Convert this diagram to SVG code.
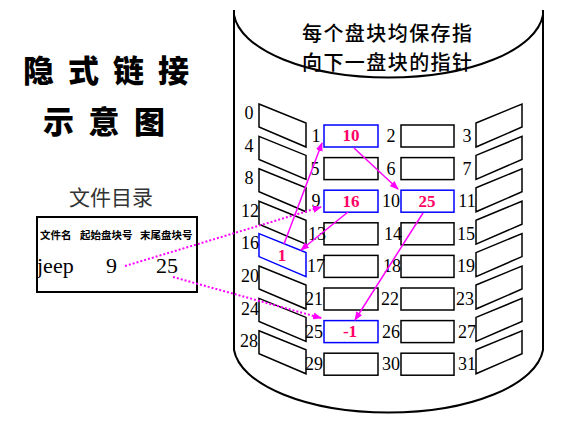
<svg xmlns="http://www.w3.org/2000/svg" width="573" height="424" viewBox="0 0 573 424">
<style>
.cyl{fill:none;stroke:#000;stroke-width:2}
.blk{fill:#fff;stroke:#000;stroke-width:1.5}
.used{fill:#fff;stroke:#0000FF;stroke-width:1.5}
.num{font-family:"Liberation Serif",serif;font-size:18px;fill:#000;text-anchor:middle}
.val{font-family:"Liberation Serif",serif;font-size:17px;font-weight:bold;fill:#FF0066;text-anchor:middle}
.cjk{font-family:"Noto Sans CJK SC",sans-serif}
.ptr{stroke:#FF00FF;stroke-width:1.5;fill:none;marker-end:url(#ah)}
.dot{stroke:#FF00FF;stroke-width:2;stroke-dasharray:2,2;fill:none;marker-end:url(#ah)}
</style>
<defs>
<marker id="ah" markerUnits="userSpaceOnUse" markerWidth="9" markerHeight="7" refX="8" refY="3.5" orient="auto">
<path d="M0,0 L9,3.5 L0,7 Z" fill="#FF00FF"/>
</marker>
<path id="pl" d="M0,0 L47,19 L47,43 L0,23 Z"/>
<path id="pr" d="M0,19 L46,0 L46,23 L0,43 Z"/>
</defs>
<rect width="573" height="424" fill="#fff"/>

<g id="titles" class="cjk">
<text x="106" y="82" font-size="31" font-weight="900" text-anchor="middle" textLength="166" lengthAdjust="spacing">隐式链接</text>
<text x="104" y="133" font-size="31" font-weight="900" text-anchor="middle" textLength="122" lengthAdjust="spacing">示意图</text>
</g>

<g id="directory">
<text x="111" y="205" class="cjk" font-size="21" fill="#333" text-anchor="middle">文件目录</text>
<rect x="37" y="217" width="160" height="75" fill="none" stroke="#000" stroke-width="2"/>
<text class="cjk" font-size="10.5" font-weight="bold" y="239"><tspan x="40">文件名</tspan><tspan x="80">起始盘块号</tspan><tspan x="140">末尾盘块号</tspan></text>
<text font-family="'Liberation Serif',serif" font-size="22" y="273"><tspan x="37">jeep</tspan><tspan x="106">9</tspan><tspan x="156">25</tspan></text>
</g>

<g id="disk">
<path class="cyl" d="M234,10 L234,350 A155,68 0 0 0 543,350 L543,10"/>
<path class="cyl" d="M234,15 A155,68 0 0 0 543,15"/>
<text class="cjk" font-size="20" font-weight="500" text-anchor="middle" x="387" y="41" textLength="170" lengthAdjust="spacing">每个盘块均保存指</text>
<text class="cjk" font-size="20" font-weight="500" text-anchor="middle" x="387" y="70" textLength="170" lengthAdjust="spacing">向下一盘块的指针</text>
</g>

<g id="col0">
<use href="#pl" class="blk" x="259" y="104"/>
<use href="#pl" class="blk" x="259" y="136.4"/>
<use href="#pl" class="blk" x="259" y="168.8"/>
<use href="#pl" class="blk" x="259" y="201.2"/>
<use href="#pl" class="used" x="259" y="233.6"/>
<use href="#pl" class="blk" x="259" y="266"/>
<use href="#pl" class="blk" x="259" y="298.4"/>
<use href="#pl" class="blk" x="259" y="330.8"/>
<text class="num" x="249" y="119">0</text>
<text class="num" x="249" y="151.6">4</text>
<text class="num" x="249" y="184.2">8</text>
<text class="num" x="250" y="216.8">12</text>
<text class="num" x="250" y="249.4">16</text>
<text class="num" x="250" y="282">20</text>
<text class="num" x="250" y="314.6">24</text>
<text class="num" x="249" y="347.2">28</text>
</g>

<g id="col1">
<rect class="used" x="324" y="125" width="54" height="22"/>
<rect class="blk" x="324" y="157.6" width="54" height="22"/>
<rect class="used" x="324" y="190.2" width="54" height="22"/>
<rect class="blk" x="324" y="222.8" width="54" height="22"/>
<rect class="blk" x="324" y="255.4" width="54" height="22"/>
<rect class="blk" x="324" y="288" width="54" height="22"/>
<rect class="used" x="324" y="320.6" width="54" height="22"/>
<rect class="blk" x="324" y="353.2" width="54" height="22"/>
<text class="num" x="316" y="142">1</text>
<text class="num" x="315" y="174.6">5</text>
<text class="num" x="316" y="207.2">9</text>
<text class="num" x="317" y="239.8">13</text>
<text class="num" x="316" y="272.4">17</text>
<text class="num" x="314" y="305">21</text>
<text class="num" x="314" y="337.6">25</text>
<text class="num" x="314" y="370.2">29</text>
</g>

<g id="col2">
<rect class="blk" x="401" y="125" width="53" height="22"/>
<rect class="blk" x="401" y="157.6" width="53" height="22"/>
<rect class="used" x="401" y="190.2" width="53" height="22"/>
<rect class="blk" x="401" y="222.8" width="53" height="22"/>
<rect class="blk" x="401" y="255.4" width="53" height="22"/>
<rect class="blk" x="401" y="288" width="53" height="22"/>
<rect class="blk" x="401" y="320.6" width="53" height="22"/>
<rect class="blk" x="401" y="353.2" width="53" height="22"/>
<text class="num" x="391" y="142">2</text>
<text class="num" x="391" y="174.6">6</text>
<text class="num" x="391" y="207.2">10</text>
<text class="num" x="393" y="239.8">14</text>
<text class="num" x="392" y="272.4">18</text>
<text class="num" x="390" y="305">22</text>
<text class="num" x="391" y="337.6">26</text>
<text class="num" x="391" y="370.2">30</text>
</g>

<g id="col3">
<use href="#pr" class="blk" x="476" y="104"/>
<use href="#pr" class="blk" x="476" y="136.4"/>
<use href="#pr" class="blk" x="476" y="168.8"/>
<use href="#pr" class="blk" x="476" y="201.2"/>
<use href="#pr" class="blk" x="476" y="233.6"/>
<use href="#pr" class="blk" x="476" y="266"/>
<use href="#pr" class="blk" x="476" y="298.4"/>
<use href="#pr" class="blk" x="476" y="330.8"/>
<text class="num" x="467" y="142">3</text>
<text class="num" x="467" y="174.6">7</text>
<text class="num" x="467" y="207.2">11</text>
<text class="num" x="466" y="239.8">15</text>
<text class="num" x="466" y="272.4">19</text>
<text class="num" x="465" y="305">23</text>
<text class="num" x="467" y="337.6">27</text>
<text class="num" x="467" y="370.2">31</text>
</g>

<g id="values">
<text class="val" x="351" y="141">10</text>
<text class="val" x="351" y="207">16</text>
<text class="val" x="427" y="207">25</text>
<text class="val" x="282" y="261">1</text>
<text class="val" x="350" y="337">-1</text>
</g>

<g id="connectors">
<line class="ptr" x1="284" y1="244" x2="322" y2="143"/>
<line class="ptr" x1="354" y1="148" x2="398" y2="189"/>
<line class="ptr" x1="348" y1="212" x2="301" y2="250"/>
<line class="ptr" x1="423" y1="213" x2="355" y2="320"/>
<line class="dot" x1="125" y1="266" x2="321" y2="207"/>
<line class="dot" x1="173" y1="277" x2="321" y2="318"/>
</g>
</svg>
